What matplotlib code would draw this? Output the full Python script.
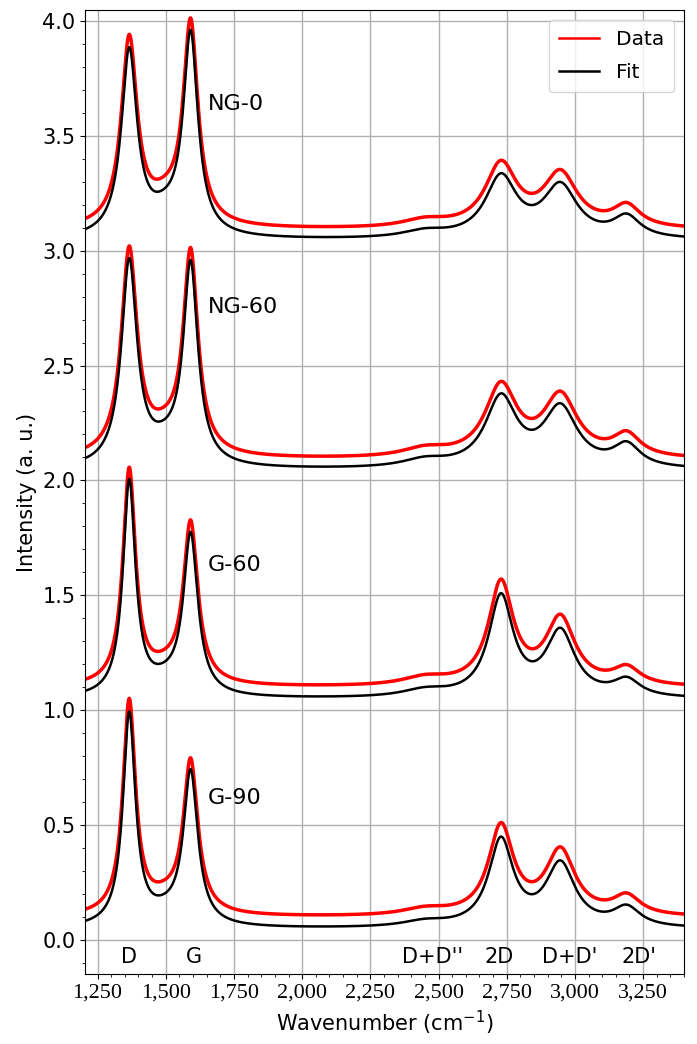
import numpy as np
import matplotlib
matplotlib.use('Agg')
import matplotlib.pyplot as plt
from matplotlib.ticker import MultipleLocator, FuncFormatter

# sample names and where their labels sit
samples = ['NG-0', 'NG-60', 'G-60', 'G-90']
label_y = [3.64, 2.754, 1.63, 0.617]

# peak names (bottom of plot) and positions
band_names = ['D', 'G', "D+D''", '2D', "D+D'", "2D'"]
band_x = [1366, 1603, 2479, 2722, 2982, 3236]

# Lorentzian components: D, D'' (amorphous), G, D+D'', 2D, D+D', 2D'
centers = [1366, 1500, 1591, 2450, 2729, 2947, 3190]
widths = [
    [70, 160, 65, 200, 140, 150, 120],
    [70, 160, 65, 200, 140, 150, 120],
    [56, 160, 64, 200, 110, 130, 120],
    [56, 160, 64, 200, 110, 130, 120],
]

fit_base = [3.045, 2.045, 1.048, 0.048]
fit_heights = [
    [0.800, 0.08, 0.860, 0.029, 0.262, 0.222, 0.090],
    [0.885, 0.07, 0.860, 0.033, 0.300, 0.255, 0.095],
    [0.930, 0.05, 0.690, 0.030, 0.433, 0.279, 0.072],
    [0.920, 0.045, 0.660, 0.024, 0.375, 0.270, 0.082],
]

data_base = [3.09, 2.09, 1.098, 0.098]
data_heights = [
    [0.808, 0.09, 0.862, 0.032, 0.272, 0.230, 0.092],
    [0.890, 0.08, 0.865, 0.036, 0.306, 0.262, 0.095],
    [0.930, 0.055, 0.690, 0.034, 0.443, 0.287, 0.074],
    [0.925, 0.055, 0.655, 0.028, 0.385, 0.278, 0.082],
]

wn = np.linspace(1205, 3400, 2200)


def spectrum(base, heights, ws):
    y = np.full_like(wn, base)
    for c, h, w in zip(centers, heights, ws):
        y += h / (1 + ((wn - c) / (w / 2)) ** 2)
    return y


fig = plt.figure(figsize=(6.97, 10.44), dpi=100)
ax = fig.add_axes([0.1224, 0.0670, 0.8589, 0.9234])

for i, name in enumerate(samples):
    ax.plot(wn, spectrum(data_base[i], data_heights[i], widths[i]), color='#ff0000', lw=2.5,
            label='Data' if i == 0 else None)
    ax.plot(wn, spectrum(fit_base[i], fit_heights[i], widths[i]), color='black', lw=1.8,
            label='Fit' if i == 0 else None)
    ax.text(1654, label_y[i], name, fontsize=16, va='center', ha='left')

for name, x in zip(band_names, band_x):
    ax.text(x, -0.073, name, fontsize=15, ha='center', va='center')

ax.set_xlim(1205, 3400)
ax.set_ylim(-0.148, 4.047)
ax.xaxis.set_major_locator(MultipleLocator(250))
ax.xaxis.set_minor_locator(MultipleLocator(50))
ax.yaxis.set_major_locator(MultipleLocator(0.5))
ax.yaxis.set_minor_locator(MultipleLocator(0.1))
ax.xaxis.set_major_formatter(FuncFormatter(lambda v, p: '{:,.0f}'.format(v)))
ax.grid(True, which='major', color='#b0b0b0', lw=1)
ax.set_axisbelow(True)

for t in ax.get_xticklabels():
    t.set_fontfamily('Liberation Serif')
    t.set_fontsize(16)
ax.tick_params(axis='y', labelsize=15)

ax.set_xlabel('Wavenumber (cm$^{-1}$)', fontsize=15)
ax.set_ylabel('Intensity (a. u.)', fontsize=15)
leg = ax.legend(loc='upper right', fontsize=14.5, labelspacing=0.7, borderpad=0.5)
for line in leg.get_lines():
    line.set_linewidth(1.8)

fig.savefig('out.png', dpi=100)
